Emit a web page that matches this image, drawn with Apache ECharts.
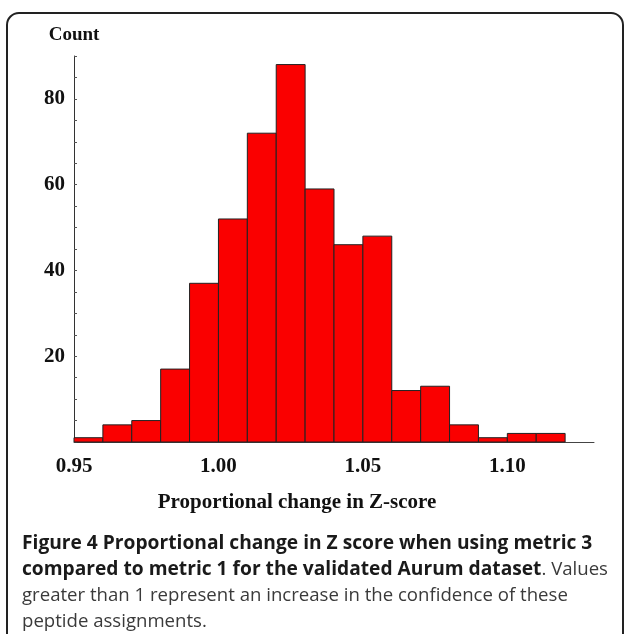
<!DOCTYPE html>
<html>
<head>
<meta charset="utf-8">
<script src="https://cdn.jsdelivr.net/npm/echarts@6/dist/echarts.min.js"></script>
<style>
  html, body { margin: 0; padding: 0; background: #fff; }
  #chart { width: 624px; height: 634px; }
</style>
</head>
<body>
<div id="chart"></div>
<script>
// histogram bins (edges) and counts
var binEdges = [0.95, 0.96, 0.97, 0.98, 0.99, 1.00, 1.01, 1.02, 1.03, 1.04, 1.05, 1.06, 1.07, 1.08, 1.09, 1.10, 1.11, 1.12];
var counts   = [1, 4, 5, 17, 37, 52, 72, 88, 59, 46, 48, 12, 13, 4, 1, 2, 2];
var xTickLabels = ['0.95', '1.00', '1.05', '1.10'];
var yTickLabels = [20, 40, 60, 80];

var serif = '"Liberation Serif", "Times New Roman", serif';
var sans = '"Open Sans", "Noto Sans", sans-serif';

var histData = [];
for (var i = 0; i < counts.length; i++) {
    histData.push([binEdges[i], binEdges[i + 1], counts[i]]);
}

var chart = echarts.init(document.getElementById('chart'), null, { renderer: 'canvas' });

var option = {
    animation: false,
    backgroundColor: '#fff',
    grid: { left: 74, top: 56, right: 30, bottom: 192, containLabel: false },
    xAxis: {
        type: 'value',
        min: 0.95,
        max: 1.13,
        interval: 0.05,
        axisLine: { lineStyle: { color: '#444', width: 1 } },
        axisTick: { show: false },
        splitLine: { show: false },
        axisLabel: {
            showMaxLabel: false,
            margin: 14,
            fontFamily: serif,
            fontWeight: 'bold',
            fontSize: 21,
            color: '#111',
            formatter: function (v) {
                var s = v.toFixed(2);
                return xTickLabels.indexOf(s) >= 0 ? s : '';
            }
        }
    },
    yAxis: {
        type: 'value',
        min: 0,
        max: 90,
        interval: 5,
        name: 'Count',
        nameLocation: 'end',
        nameGap: 11,
        nameTextStyle: { fontFamily: serif, fontWeight: 'bold', fontSize: 19, color: '#111', align: 'center' },
        axisLine: { show: true, lineStyle: { color: '#333', width: 1 } },
        axisTick: { show: true, inside: true, length: 3, lineStyle: { color: '#555' } },
        splitLine: { show: false },
        axisLabel: {
            margin: 9,
            fontFamily: serif,
            fontWeight: 'bold',
            fontSize: 21,
            color: '#111',
            formatter: function (v) {
                return yTickLabels.indexOf(v) >= 0 ? String(v) : '';
            }
        }
    },
    series: [{
        type: 'custom',
        data: histData,
        encode: { x: [0, 1], y: 2 },
        renderItem: function (params, api) {
            var topLeft = api.coord([api.value(0), api.value(2)]);
            var bottomRight = api.coord([api.value(1), 0]);
            return {
                type: 'rect',
                shape: {
                    x: topLeft[0],
                    y: topLeft[1],
                    width: bottomRight[0] - topLeft[0],
                    height: bottomRight[1] - topLeft[1]
                },
                style: { fill: '#fa0000', stroke: '#222', lineWidth: 1 }
            };
        }
    }],
    graphic: [
        {   // rounded frame around the figure
            type: 'rect',
            shape: { x: 7, y: 13, width: 616, height: 700, r: 12 },
            style: { fill: null, stroke: '#222', lineWidth: 2 },
            silent: true
        },
        {   // x axis title
            type: 'text',
            x: 297, y: 503,
            style: {
                text: 'Proportional change in Z-score',
                fontFamily: serif, fontWeight: 'bold', fontSize: 21, fill: '#111',
                align: 'center', verticalAlign: 'middle'
            }
        },
        {   // caption
            type: 'text',
            x: 22, y: 531,
            style: {
                text: '{b|Figure 4 Proportional change in Z score when using metric 3}\n' +
                      '{b|compared to metric 1 for the validated Aurum dataset}{r|. Values}\n' +
                      '{r|greater than 1 represent an increase in the confidence of these}\n' +
                      '{r|peptide assignments.}',
                align: 'left', verticalAlign: 'top',
                rich: {
                    b: { fontFamily: sans, fontWeight: 'bold', fontSize: 19.2, fill: '#1a1a1a', lineHeight: 26 },
                    r: { fontFamily: sans, fontWeight: 'normal', fontSize: 18.6, fill: '#3a3a3a', lineHeight: 26 }
                }
            }
        }
    ]
};

chart.setOption(option);
</script>
</body>
</html>
